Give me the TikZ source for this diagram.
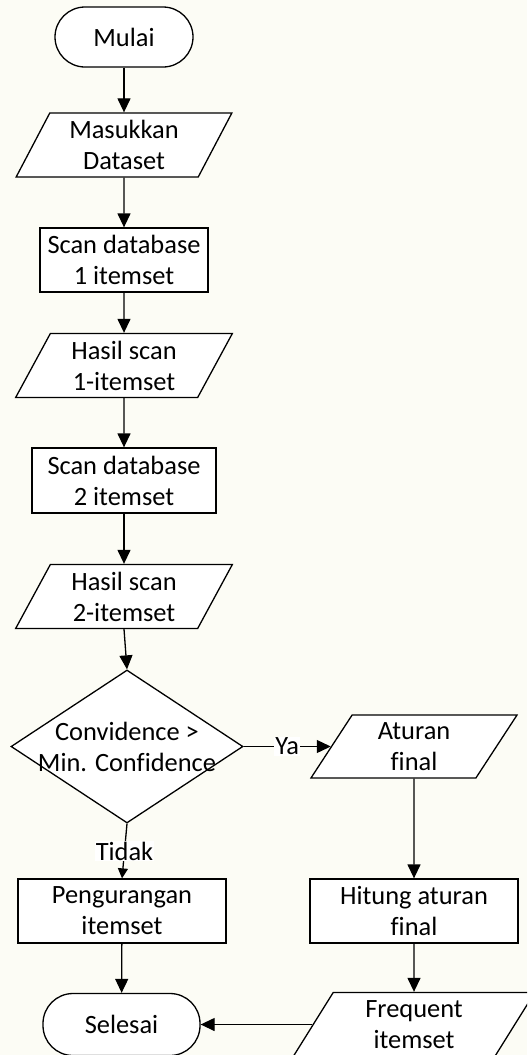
\documentclass[tikz,border=0pt]{standalone}
\usepackage{fontspec}
\setmainfont{Carlito}[Ligatures=NoCommon]
\usetikzlibrary{shapes.geometric,arrows.meta}
\definecolor{paper}{RGB}{252,252,245}

\begin{document}
\begin{tikzpicture}[x=0.5pt,y=-0.5pt,
    font=\fontsize{13.2pt}{15.5pt}\selectfont,
    every node/.style={align=center},
    terminal/.style={draw,fill=white,rectangle,rounded corners=15pt,minimum height=30pt,line width=0.65pt},
    process/.style={draw,fill=white,rectangle,minimum height=32pt,inner sep=0pt,line width=0.65pt},
    io/.style={draw,fill=white,trapezium,trapezium left angle=63.4,trapezium right angle=116.6,
        trapezium stretches=true,minimum height=32pt,inner sep=0pt,line width=0.65pt},
    decision/.style={draw,fill=white,diamond,inner sep=0pt,line width=0.65pt},
    flow/.style={line width=0.65pt,-{Triangle[length=7pt,width=6.5pt]}},
    tag/.style={fill=white,inner sep=0.6pt}]
    \useasboundingbox (0,0) rectangle (527,1055);
    \clip (0,0) rectangle (527,1055);
    \fill[paper] (0,0) rectangle (527,1055);

    % left column
    \node[terminal,minimum width=69pt] (mulai) at (124,37) {Mulai};
    \node[io,minimum width=108.5pt] (masuk) at (124,145) {Masukkan\\Dataset};
    \node[process,minimum width=84pt] (scan1) at (124,260) {Scan database\\1 itemset};
    \node[io,minimum width=108.5pt] (hasil1) at (124,365.5) {Hasil scan\\1-itemset};
    \node[process,minimum width=92pt,minimum height=32.5pt] (scan2) at (124,480.5) {Scan database\\2 itemset};
    \node[io,minimum width=108.5pt] (hasil2) at (124,596.5) {Hasil scan\\2-itemset};
    \node[decision,minimum width=116pt,minimum height=76.5pt,
        label={[align=center]center:Convidence >\\Min. Confidence}] (cek) at (127,746.5) {};
    \node[process,minimum width=104pt] (kurang) at (122,911) {Pengurangan\\itemset};
    \node[terminal,minimum width=78.5pt,minimum height=31pt] (selesai) at (121.5,1024.5) {Selesai};

    % right column
    \node[io,minimum width=103.5pt,minimum height=31.5pt] (aturan) at (414,746.5) {Aturan\\final};
    \node[process,minimum width=104pt] (hitung) at (414,911) {Hitung aturan\\final};
    \node[io,minimum width=121pt] (freq) at (414,1024.5) {Frequent\\itemset};

    \draw[flow] (mulai) -- (masuk);
    \draw[flow] (masuk) -- (scan1);
    \draw[flow] (scan1) -- (hasil1);
    \draw[flow] (hasil1) -- (scan2);
    \draw[flow] (scan2) -- (hasil2);
    \draw[flow] (hasil2.south) -- (cek.north);
    \draw[flow] (cek.east) -- node[tag] {Ya} (aturan.left side);
    \draw[line width=0.65pt,-{Triangle[length=5pt,width=5pt]}] (cek.south) -- node[tag,pos=0.5] {Tidak} (kurang.north);
    \draw[flow] (kurang) -- (selesai);
    \draw[flow] (aturan.south) -- (hitung.north);
    \draw[flow] (hitung) -- (freq);
    \draw[flow] (freq.left side) -- (selesai.east);
\end{tikzpicture}
\end{document}
